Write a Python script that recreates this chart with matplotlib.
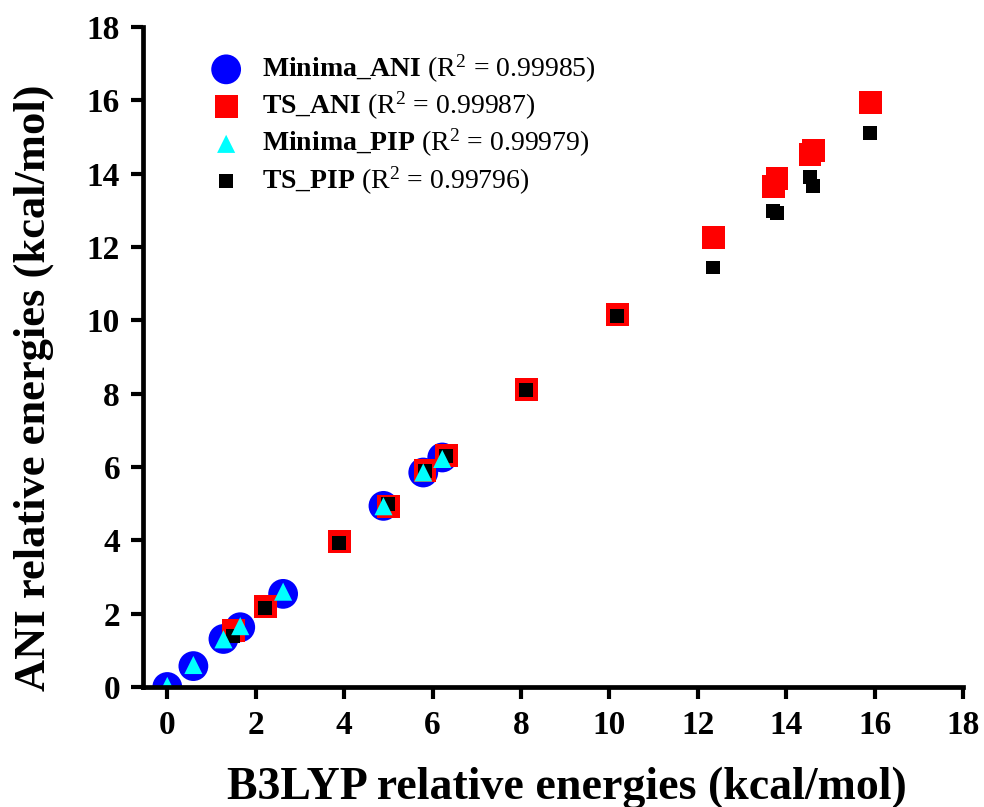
import numpy as np
import matplotlib
matplotlib.use("Agg")
import matplotlib.pyplot as plt

plt.rcParams['font.family'] = ['Liberation Serif', 'DejaVu Serif']
plt.rcParams['mathtext.fontset'] = 'custom'
plt.rcParams['mathtext.rm'] = 'Liberation Serif'
plt.rcParams['mathtext.bf'] = 'Liberation Serif:bold'
plt.rcParams['mathtext.it'] = 'Liberation Serif:italic'

# minima: B3LYP vs ANI / PIP (kcal/mol)
min_b3lyp = [0.0, 0.59, 1.27, 1.65, 2.62, 4.89, 5.79, 6.22]
min_ani = [0.0, 0.57, 1.31, 1.63, 2.54, 4.94, 5.85, 6.26]
min_pip = [0.03, 0.6, 1.3, 1.66, 2.6, 4.93, 5.85, 6.22]

# transition states
ts_b3lyp = [1.49, 2.22, 3.89, 5.0, 5.83, 6.31, 8.12, 10.18, 12.35, 13.71, 13.79, 14.54, 14.61, 15.9]
ts_ani = [1.53, 2.19, 3.96, 4.92, 5.9, 6.31, 8.11, 10.16, 12.26, 13.64, 13.88, 14.53, 14.64, 15.95]
ts_pip = [1.39, 2.16, 3.93, 5.0, 5.88, 6.3, 8.1, 10.12, 11.44, 12.98, 12.92, 13.9, 13.66, 15.1]

labels = [r'$\mathbf{Minima\_ANI}$ (R$^{2}$ = 0.99985)',
          r'$\mathbf{TS\_ANI}$ (R$^{2}$ = 0.99987)',
          r'$\mathbf{Minima\_PIP}$ (R$^{2}$ = 0.99979)',
          r'$\mathbf{TS\_PIP}$ (R$^{2}$ = 0.99796)']

fig = plt.figure(figsize=(9.84, 8.07), dpi=100)
ax = fig.add_axes([0.1453, 0.1487, 0.8334, 0.8178])

ax.scatter(min_b3lyp, min_ani, s=460, marker='o', color='#0000ff', edgecolors='none', zorder=2, label=labels[0])
ax.scatter(ts_b3lyp, ts_ani, s=270, marker='s', color='#ff0000', edgecolors='none', zorder=3, label=labels[1])
ax.scatter(min_b3lyp, min_pip, s=170, marker='^', color='#00ffff', edgecolors='none', zorder=5, label=labels[2])
ax.scatter(ts_b3lyp, ts_pip, s=100, marker='s', color='#000000', edgecolors='none', zorder=4, label=labels[3])

ax.set_xlim(-0.55, 18)
ax.set_ylim(0, 18)
ax.set_xticks(np.arange(0, 19, 2))
ax.set_yticks(np.arange(0, 19, 2))

for side in ['top', 'right']:
    ax.spines[side].set_visible(False)
for side in ['left', 'bottom']:
    ax.spines[side].set_linewidth(3.4)
    ax.spines[side].set_zorder(10)
ax.tick_params(direction='out', length=8.5, width=3, labelsize=24, pad=8)
for lab in ax.get_xticklabels() + ax.get_yticklabels():
    lab.set_fontweight('bold')

ax.set_xlabel('B3LYP relative energies (kcal/mol)', fontsize=33, fontweight='bold')
ax.set_ylabel('ANI relative energies (kcal/mol)', fontsize=32, fontweight='bold')
ax.xaxis.set_label_coords(0.517, -0.12)
ax.yaxis.set_label_coords(-0.108, 0.453)

leg = ax.legend(loc='upper left', bbox_to_anchor=(0.054, 0.978), frameon=False,
                fontsize=20, handletextpad=0.3, labelspacing=0.18, borderaxespad=0)
leg.set_zorder(20)

fig.savefig('out.png', dpi=100)
